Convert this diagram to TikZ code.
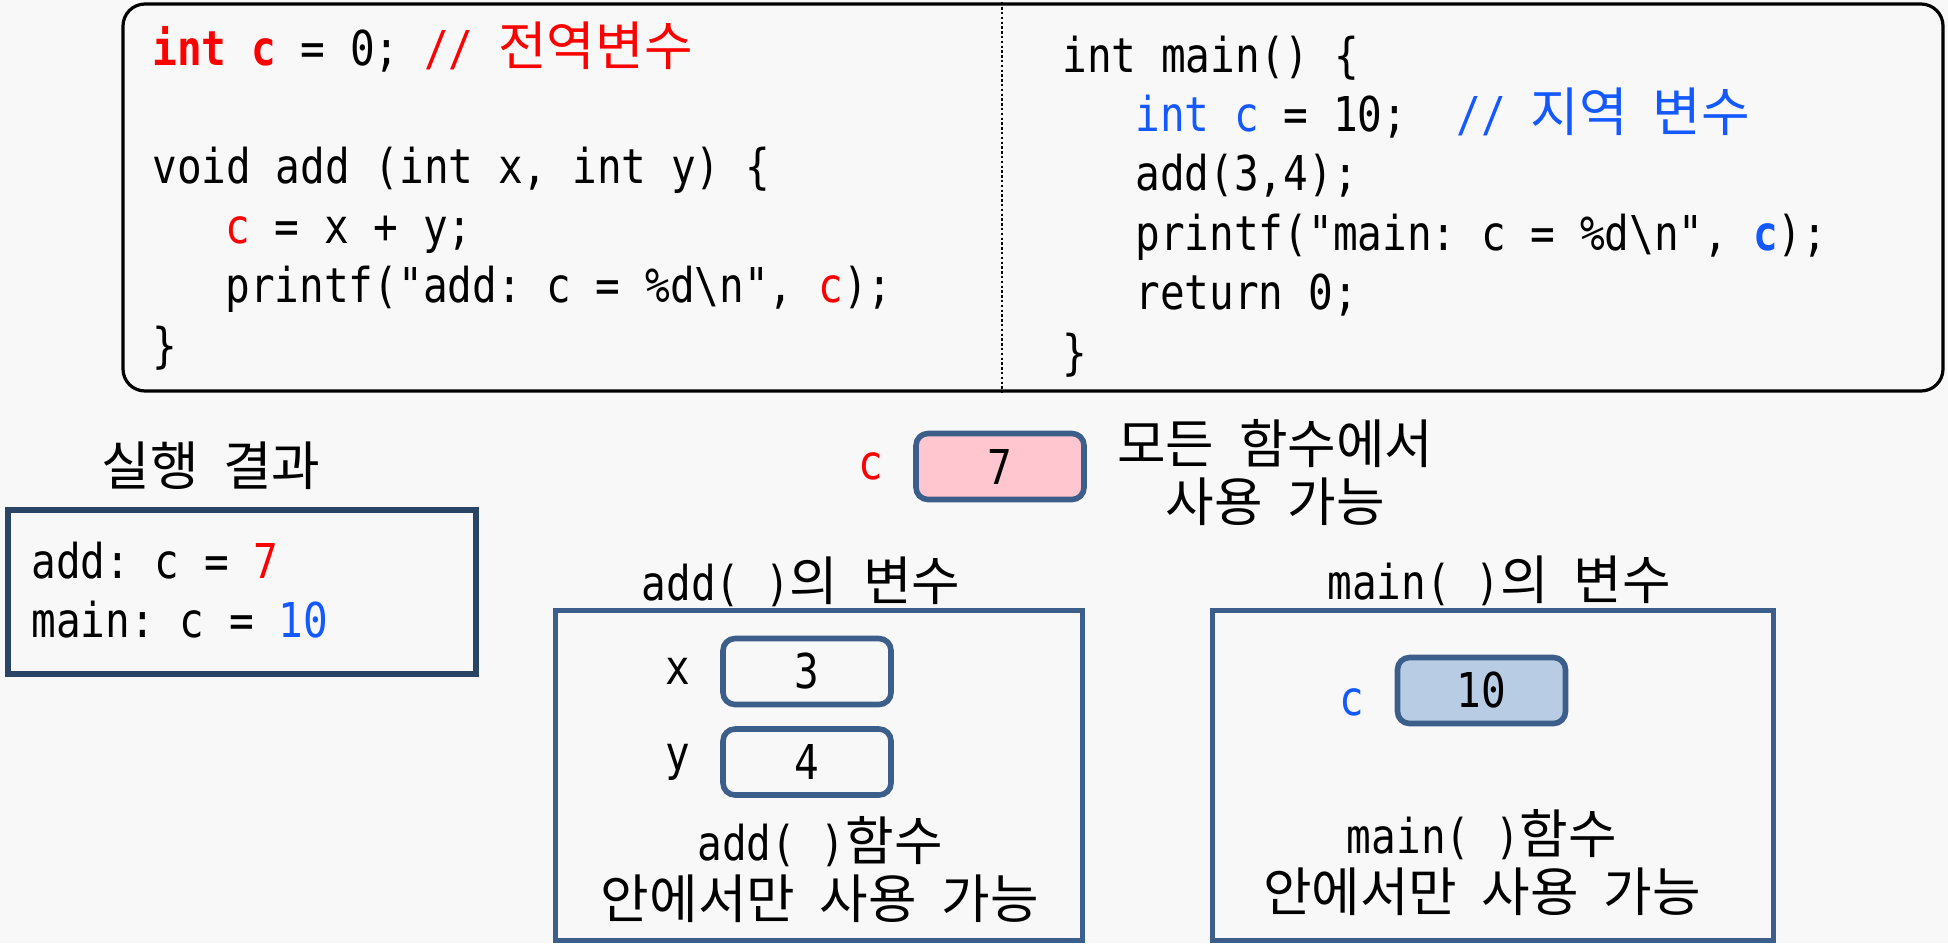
\documentclass[tikz,border=0pt]{standalone}
\usepackage{fontspec}
\setmonofont[FakeStretch=0.855]{DejaVu Sans Mono}
\newfontfamily\krfont[Scale=1.1]{Noto Sans CJK KR}
\newcommand{\kr}[1]{{\krfont #1}}
\usepackage{tikz}
\usetikzlibrary{positioning}
\definecolor{bgcol}{HTML}{F8F8F8}
\definecolor{codered}{HTML}{FF0000}
\definecolor{codeblue}{HTML}{1458FF}
\definecolor{boxblue}{HTML}{3C5E8B}
\definecolor{navy}{HTML}{2A4466}
\definecolor{pinkfill}{HTML}{FFC6CF}
\definecolor{bluefill}{HTML}{B8CCE4}

\begin{document}
\begin{tikzpicture}[x=0.5pt, y=-0.5pt, font=\ttfamily\fontsize{24}{29}\selectfont,
	codeline/.style={anchor=base west, inner sep=0pt},
	txt/.style={inner sep=0pt, align=center},
	valbox/.style={draw=boxblue, line width=2.8pt, rounded corners=6pt, minimum width=84pt, minimum height=33pt, inner sep=0pt},
	scopebox/.style={draw=boxblue, line width=2.5pt, inner sep=0pt}]
				\fill [bgcol] (0,0) rectangle (1948,943);
				\useasboundingbox (0,0) rectangle (1948,943);
				
				\node [draw, line width=1.6pt, rounded corners=11pt, minimum width=910pt, minimum height=193.5pt] (codebox) at (1033,197.5) {};
				\coordinate (divx) at (1002,0);
				\draw [line width=1pt, dash pattern=on 1.2pt off 1.2pt] (codebox.north -| divx) -- (codebox.south -| divx);
				
				\node [codeline] (add1) at (152,65) {\textcolor{codered}{\bfseries int c} = 0; \textcolor{codered}{// \kr{전역변수}}};
				\node [codeline] (add2) at (152,183.8) {void add (int x, int y) \{};
				\node [codeline] (add3) at (225,243.2) {\textcolor{codered}{c} = x + y;};
				\node [codeline] (add4) at (225,302.6) {printf("add: c = \%d\textbackslash n", \textcolor{codered}{c});};
				\node [codeline] (add5) at (152,362) {\}};
				
				\node [codeline] (main1) at (1062,72) {int main() \{};
				\node [codeline] (main2) at (1135,131.4) {\textcolor{codeblue}{int c} = 10;\ \ \textcolor{codeblue}{// \kr{지역} \kr{변수}}};
				\node [codeline] (main3) at (1135,190.8) {add(3,4);};
				\node [codeline] (main4) at (1135,250.2) {printf("main: c = \%d\textbackslash n", \textcolor{codeblue}{\bfseries c});};
				\node [codeline] (main5) at (1135,309.6) {return 0;};
				\node [codeline] (main6) at (1062,369) {\}};
				
				\node [txt] (outtitle) at (211,466) {\kr{실행} \kr{결과}};
				\node [scopebox, draw=navy, line width=3pt, minimum width=234pt, minimum height=82pt] (outbox) at (242,592) {};
				\node [codeline] (out1) at (31,578) {add: c = \textcolor{codered}{7}};
				\node [codeline] (out2) at (31,637) {main: c = \textcolor{codeblue}{10}};
				
				\node [valbox, fill=pinkfill] (cval) at (1000,466.5) {7};
				\node [txt, left=15pt of cval, text=codered] (cname) {c};
				\node [txt, right=15pt of cval, yshift=-3pt] (glbnote) {\kr{모든} \kr{함수에서}\\\kr{사용} \kr{가능}};
				
				\node [txt] (addtitle) at (801,582) {add( )\kr{의} \kr{변수}};
				\node [scopebox, minimum width=263.5pt, minimum height=165pt] (addbox) at (818.5,775) {};
				\node [valbox] (xval) at (807,671.5) {3};
				\node [valbox] (yval) at (807,762) {4};
				\node [txt, left=15pt of xval] (xname) {x};
				\node [txt, left=15pt of yval] (yname) {y};
				\node [txt] (addnote) at (820,869.5) {add( )\kr{함수}\\\kr{안에서만} \kr{사용} \kr{가능}};
				
				\node [txt] (maintitle) at (1499,581) {main( )\kr{의} \kr{변수}};
				\node [scopebox, minimum width=280.75pt, minimum height=165pt] (mainbox) at (1493,775) {};
				\node [valbox, fill=bluefill] (mval) at (1481.5,690.5) {10};
				\node [txt, left=15pt of mval, yshift=-6pt, text=codeblue] (mname) {c};
				\node [txt] (mainnote) at (1482,863) {main( )\kr{함수}\\\kr{안에서만} \kr{사용} \kr{가능}};
			\end{tikzpicture}
\end{document}
